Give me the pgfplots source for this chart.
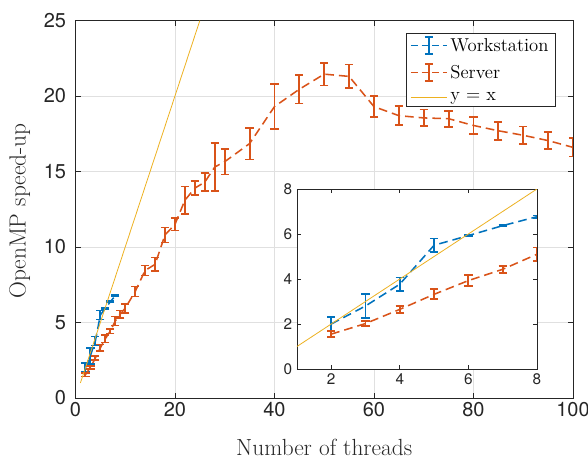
\documentclass[border=0pt]{standalone}
\usepackage{fontspec}
\usepackage{pgfplots}
\pgfplotsset{compat=1.18}
\usepackage{pgfplotstable}
\newfontfamily\helv{TeX Gyre Heros}
\definecolor{mblue}{rgb}{0,0.447,0.741}
\definecolor{morange}{rgb}{0.85,0.325,0.098}
\definecolor{myellow}{rgb}{0.929,0.694,0.125}
\definecolor{axgray}{rgb}{0.15,0.15,0.15}

\pgfplotstableread{
x y e
2 2.0 0.3
3 2.8 0.53
4 3.77 0.3
5 5.5 0.3
6 5.93 0.04
7 6.37 0.04
8 6.77 0.05
}\workstation

\pgfplotstableread{
x y e
2 1.55 0.13
3 2.02 0.12
4 2.65 0.15
5 3.32 0.22
6 3.93 0.25
7 4.43 0.15
8 5.1 0.3
9 5.55 0.25
10 5.95 0.3
12 7.05 0.33
14 8.45 0.33
16 8.85 0.45
18 10.8 0.5
20 11.5 0.4
22 13.1 0.9
24 13.9 0.45
26 14.3 0.6
28 15.3 1.6
30 15.65 0.85
35 16.85 1.05
40 19.3 1.5
45 20.45 0.95
50 21.45 0.75
55 21.3 0.78
60 19.3 0.68
65 18.7 0.62
70 18.55 0.55
75 18.5 0.53
80 18.05 0.55
85 17.7 0.6
90 17.4 0.58
95 17.05 0.58
100 16.6 0.6
}\server

\pgfplotsset{
  ebseries/.style={#1, line width=1.15pt, dash pattern=on 6.5pt off 3.75pt, mark=none,
    error bars/.cd, y dir=both, y explicit,
    error bar style={solid, line width=1.4pt, draw=#1},
    error mark options={solid, rotate=90, mark size=3.1pt, line width=1.3pt, draw=#1},
    /pgfplots/.cd},
  eblegend/.style={legend image code/.code={
    \draw[##1, dash pattern=on 5pt off 3pt] (0pt,0pt) -- (27pt,0pt);
    \draw[##1, solid, line width=1.3pt] (13.5pt,-6.5pt) -- (13.5pt,6.5pt) (10.5pt,-6.5pt) -- (16.5pt,-6.5pt) (10.5pt,6.5pt) -- (16.5pt,6.5pt);}},
  yxlegend/.style={legend image code/.code={
    \draw[##1] (0pt,0pt) -- (27pt,0pt);}},
}

\begin{document}
\begin{tikzpicture}
\path[use as bounding box] (-56.6pt,-45pt) rectangle (384.4pt,298.5pt);
\begin{axis}[
  at={(0pt,0pt)}, anchor=south west,
  scale only axis, width=373.1pt, height=283.1pt,
  xmin=0, xmax=100, ymin=0, ymax=25,
  xtick={0,20,...,100}, ytick={0,5,...,25},
  grid=major, major grid style={black!12, line width=0.6pt},
  tick align=inside, major tick length=4pt,
  axis line style={axgray, line width=0.6pt},
  tick style={axgray, line width=0.6pt},
  tick label style={font=\helv\fontsize{15}{18}\selectfont, color=axgray},
  yticklabel style={xshift=-3.5pt},
  /pgf/number format/assume math mode=true,
  xlabel={Number of threads}, ylabel={OpenMP speed-up},
  label style={font=\fontsize{17.5}{21}\selectfont, color=axgray},
  xlabel style={at={(axis description cs:0.5,-0.13)}, anchor=center},
  ylabel style={at={(axis description cs:-0.112,0.495)}, anchor=center},
  legend style={at={(0.664,0.967)}, anchor=north west, draw=axgray, line width=0.6pt,
    fill=white, font=\fontsize{14}{17}\selectfont, row sep=5pt, inner ysep=1.5pt},
  legend cell align=left,
]
\addplot[eblegend, ebseries=mblue] table[x=x, y=y, y error=e] {\workstation};
\addlegendentry{Workstation}
\addplot[eblegend, ebseries=morange] table[x=x, y=y, y error=e] {\server};
\addlegendentry{Server}
\addplot[myellow, line width=0.6pt, mark=none, yxlegend] coordinates {(1,1) (25,25)};
\addlegendentry{y = x}
\end{axis}
\begin{axis}[
  at={(166.1pt,21.75pt)}, anchor=south west,
  scale only axis, width=180pt, height=135pt,
  xmin=1, xmax=8, ymin=0, ymax=8,
  xtick={2,4,6,8}, ytick={0,2,...,8},
  axis background/.style={fill=white},
  tick align=inside, major tick length=3pt,
  axis line style={axgray, line width=0.6pt},
  tick style={axgray, line width=0.6pt},
  tick label style={font=\helv\fontsize{11.5}{14}\selectfont, color=axgray},
  /pgf/number format/assume math mode=true,
]
\addplot[ebseries=mblue] table[x=x, y=y, y error=e] {\workstation};
\addplot[ebseries=morange] table[x=x, y=y, y error=e] {\server};
\addplot[myellow, line width=0.6pt, mark=none] coordinates {(1,1) (8,8)};
\end{axis}
\end{tikzpicture}
\end{document}
